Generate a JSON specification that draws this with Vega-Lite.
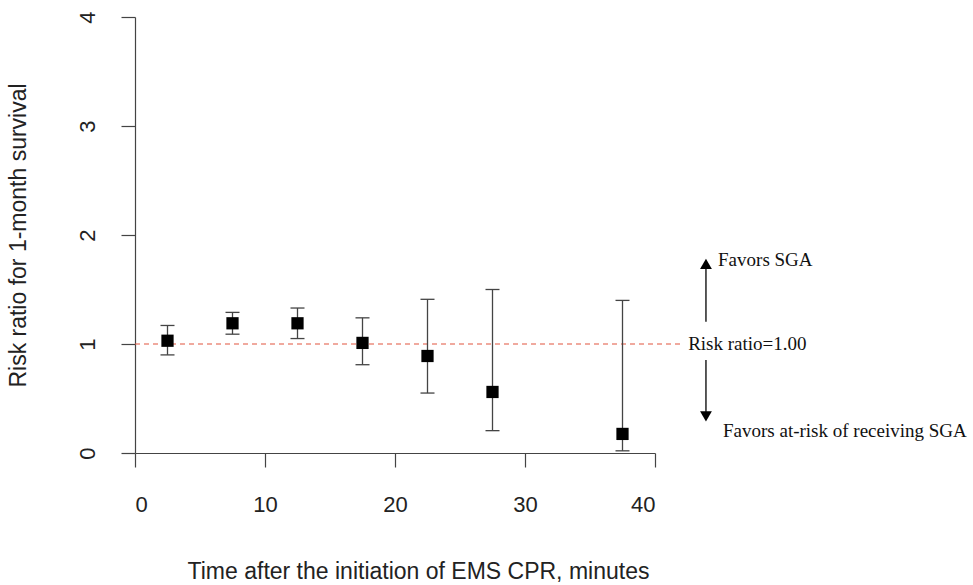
{
  "$schema": "https://vega.github.io/schema/vega-lite/v6.json",
  "width": 520,
  "height": 436,
  "autosize": {"type": "none"},
  "padding": {"left": 135, "top": 17, "right": 318, "bottom": 132},
  "background": "white",
  "config": {
    "view": {"stroke": null},
    "axis": {
      "grid": false,
      "domainColor": "#444444",
      "tickColor": "#444444",
      "domainWidth": 1.2,
      "tickWidth": 1.2,
      "tickSize": 14,
      "labelFont": "Liberation Sans",
      "titleFont": "Liberation Sans",
      "labelColor": "#222222",
      "titleColor": "#222222",
      "labelFontSize": 22,
      "titleFontSize": 23,
      "titleFontWeight": "normal"
    }
  },
  "datasets": {
    "pts": [
      {"time": 2.5, "rr": 1.03, "lo": 0.90, "hi": 1.17},
      {"time": 7.5, "rr": 1.19, "lo": 1.09, "hi": 1.29},
      {"time": 12.5, "rr": 1.19, "lo": 1.05, "hi": 1.33},
      {"time": 17.5, "rr": 1.01, "lo": 0.81, "hi": 1.24},
      {"time": 22.5, "rr": 0.89, "lo": 0.55, "hi": 1.41},
      {"time": 27.5, "rr": 0.56, "lo": 0.205, "hi": 1.50},
      {"time": 37.5, "rr": 0.175, "lo": 0.02, "hi": 1.40}
    ],
    "refline": [{"x": 0, "x2": 42.0, "y": 1}],
    "arrows": [
      {"x": 43.92, "y": 1.205, "y2": 1.72},
      {"x": 43.92, "y": 0.853, "y2": 0.35}
    ],
    "heads": [
      {"x": 43.92, "y": 1.735, "shape": "triangle-up"},
      {"x": 43.92, "y": 0.335, "shape": "triangle-down"}
    ],
    "notes": [
      {"x": 42.55, "y": 1.0, "label": "Risk ratio=1.00"},
      {"x": 44.85, "y": 1.77, "label": "Favors SGA"},
      {"x": 45.23, "y": 0.2, "label": "Favors at-risk of receiving SGA"}
    ]
  },
  "layer": [
    {
      "data": {"name": "refline"},
      "mark": {"type": "rule", "color": "#e2553f", "strokeWidth": 1.2, "strokeDash": [5, 4]},
      "encoding": {
        "x": {"field": "x", "type": "quantitative",
          "scale": {"domain": [0, 40], "nice": false, "zero": false},
          "axis": {"values": [0, 10, 20, 30, 40], "format": "d", "labelPadding": 27,
            "title": "Time after the initiation of EMS CPR, minutes",
            "titleX": 283, "titleY": 125, "titleAlign": "center", "titleBaseline": "alphabetic"}},
        "x2": {"field": "x2"},
        "y": {"field": "y", "type": "quantitative",
          "scale": {"domain": [0, 4], "nice": false, "zero": false},
          "axis": {"values": [0, 1, 2, 3, 4], "format": "d", "labelAngle": -90, "labelAlign": "center", "labelBaseline": "bottom", "labelPadding": 22,
            "title": "Risk ratio for 1-month survival",
            "titleAngle": -90, "titleX": -110, "titleY": 218, "titleAlign": "center", "titleBaseline": "alphabetic"}}
      }
    },
    {
      "data": {"name": "pts"},
      "mark": {"type": "rule", "color": "#444444", "strokeWidth": 1.3},
      "encoding": {
        "x": {"field": "time", "type": "quantitative"},
        "y": {"field": "lo", "type": "quantitative"},
        "y2": {"field": "hi"}
      }
    },
    {
      "data": {"name": "pts"},
      "mark": {"type": "rule", "color": "#444444", "strokeWidth": 1.3, "xOffset": -7, "x2Offset": 7},
      "encoding": {
        "x": {"field": "time", "type": "quantitative"},
        "x2": {"field": "time"},
        "y": {"field": "lo", "type": "quantitative"}
      }
    },
    {
      "data": {"name": "pts"},
      "mark": {"type": "rule", "color": "#444444", "strokeWidth": 1.3, "xOffset": -7, "x2Offset": 7},
      "encoding": {
        "x": {"field": "time", "type": "quantitative"},
        "x2": {"field": "time"},
        "y": {"field": "hi", "type": "quantitative"}
      }
    },
    {
      "data": {"name": "pts"},
      "mark": {"type": "point", "shape": "square", "filled": true, "color": "black", "opacity": 1, "size": 150},
      "encoding": {
        "x": {"field": "time", "type": "quantitative"},
        "y": {"field": "rr", "type": "quantitative"}
      }
    },
    {
      "data": {"name": "arrows"},
      "mark": {"type": "rule", "color": "black", "strokeWidth": 1.3},
      "encoding": {
        "x": {"field": "x", "type": "quantitative"},
        "y": {"field": "y", "type": "quantitative"},
        "y2": {"field": "y2"}
      }
    },
    {
      "data": {"name": "heads"},
      "mark": {"type": "point", "filled": true, "color": "black", "opacity": 1, "size": 140},
      "encoding": {
        "x": {"field": "x", "type": "quantitative"},
        "y": {"field": "y", "type": "quantitative"},
        "shape": {"field": "shape", "type": "nominal", "scale": null, "legend": null}
      }
    },
    {
      "data": {"name": "notes"},
      "mark": {"type": "text", "align": "left", "baseline": "middle", "font": "Liberation Serif", "fontSize": 19, "color": "#111111"},
      "encoding": {
        "x": {"field": "x", "type": "quantitative"},
        "y": {"field": "y", "type": "quantitative"},
        "text": {"field": "label"}
      }
    }
  ]
}
